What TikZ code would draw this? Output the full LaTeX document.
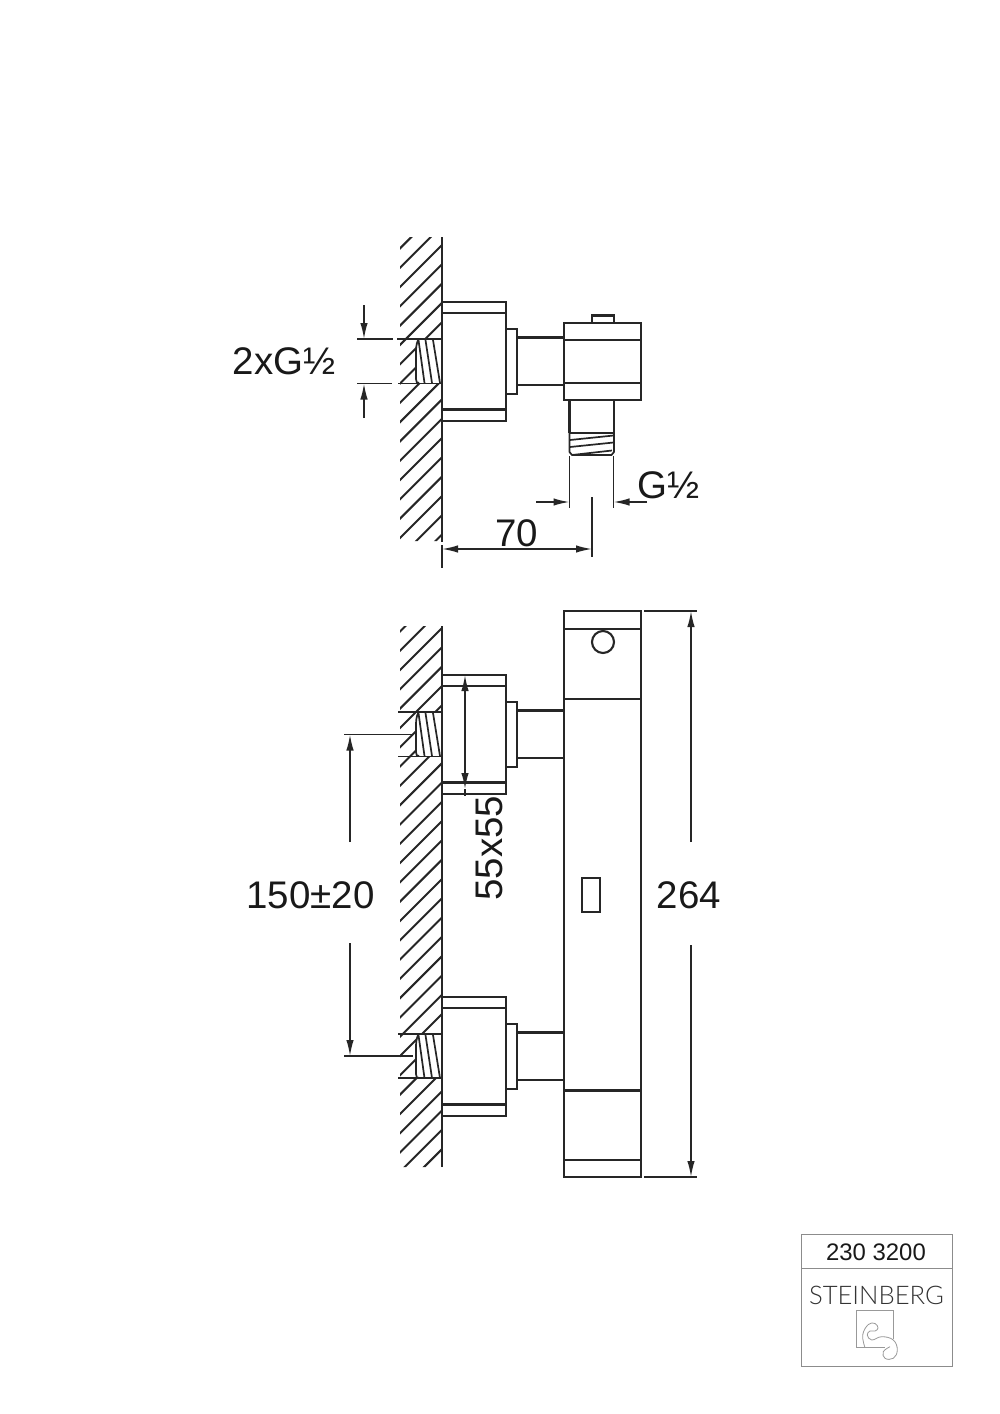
\documentclass[tikz,border=0pt]{standalone}
\usepackage{fontspec}
\setmainfont{Liberation Sans}
\newfontfamily\lightfont{Lato Light}
\usetikzlibrary{arrows.meta}
\tikzset{
  part/.style={line width=0.042cm,color=black!85,line join=miter},
  dimline/.style={line width=0.034cm,color=black!85},
  dimarrow/.style={dimline,-{Latex[length=0.32cm,width=0.15cm]}},
  dimboth/.style={dimline,{Latex[length=0.32cm,width=0.15cm]}-{Latex[length=0.32cm,width=0.15cm]}},
  hatchline/.style={line width=0.04cm,color=black!85},
  threadline/.style={line width=0.034cm,color=black!85},
  bigtext/.style={font=\fontsize{21.9}{22}\selectfont,color=black!90,inner sep=0pt},
  titleframe/.style={line width=0.02cm,color=black!45},
  logoline/.style={line width=0.016cm,color=black!40},
}
\newcommand{\mountblock}[1]{%
  \draw[part] (442,#1) rectangle (506,#1+119);
  \draw[part] (442,#1+11) -- (506,#1+11);
  \draw[part] (442,#1+107.5) -- (506,#1+107.5);
  \draw[part] (506,#1+27) rectangle (517,#1+92);
  \draw[part] (517,#1+35.5) -- (564,#1+35.5);
  \draw[part] (517,#1+83) -- (564,#1+83);
}
\newcommand{\holethread}[1]{%
  \draw[threadline] (418,#1+1) .. controls (416,#1+6) and (416,#1+10) .. (416,#1+14) -- (416,#1+40) .. controls (416,#1+43) and (417,#1+44) .. (419,#1+44);
  \draw[threadline] (418.5,#1+1) -- (424.5,#1+44);
  \draw[threadline] (425.5,#1+1) -- (432,#1+44);
  \draw[threadline] (433,#1+1) -- (440,#1+44);
}
\begin{document}
\begin{tikzpicture}[x=0.02cm,y=-0.02cm]
\useasboundingbox (0,0) rectangle (1000,1414);
\fill[white] (0,0) rectangle (1000,1414);

% ---------- upper view: wall hatch
\begin{scope}
  \clip (400,237) -- (442,237) -- (442,339) -- (416,339) -- (416,383.5) -- (442,383.5) -- (442,541) -- (400,541) -- cycle;
  \foreach \k in {0,...,20}{
    \draw[hatchline] (443,{205.4+19.3*\k}) -- (399,{249.4+19.3*\k});
  }
\end{scope}
\draw[part] (442,237) -- (442,541.5);
\draw[part] (442,545) -- (442,568);
\draw[threadline] (397,339) -- (442,339);
\draw[threadline] (398,383.5) -- (442,383.5);
\holethread{339}
\mountblock{302}

% upper view: side head
\draw[part] (564,323) rectangle (641,400);
\draw[part] (564,340) -- (641,340);
\draw[part] (564,383) -- (641,383);
\draw[part] (592,323) -- (592,315.5) -- (614,315.5) -- (614,323);
\draw[part] (569.5,400) -- (569.5,433);
\draw[part] (614,400) -- (614,433);
\draw[part] (569.5,433) -- (614,433);
\draw[threadline] (569.5,433) -- (569.5,452) -- (572,455) -- (611.5,455) -- (614,452) -- (614,433);
\draw[threadline] (570,440) -- (613.5,435.5);
\draw[threadline] (570,447) -- (613.5,442.5);
\draw[threadline] (572,455) -- (612,450.5);

% upper view: dimensions
\draw[dimline] (357,339) -- (393,339);
\draw[dimline] (357,383.5) -- (392,383.5);
\coordinate (da) at (364,305); \coordinate (db) at (364,339);
\coordinate (dc) at (364,418); \coordinate (dd) at (364,383.5);
\draw[dimarrow] (da) -- (db);
\draw[dimarrow] (dc) -- (dd);
\node[bigtext] (lblA) at (284,361) {2xG½};

\draw[dimline] (569.5,456) -- (569.5,508);
\draw[dimline] (613.5,456) -- (613.5,508);
\draw[dimline] (592,497) -- (592,557);
\coordinate (ga) at (536,502); \coordinate (gb) at (569.5,502);
\coordinate (gc) at (647,502); \coordinate (gd) at (613.5,502);
\draw[dimarrow] (ga) -- (gb);
\draw[dimarrow] (gc) -- (gd);
\node[bigtext] (lblB) at (669,485) {G½};
\coordinate (sa) at (442,549); \coordinate (sb) at (592,549);
\draw[dimboth] (sa) -- (sb);
\node[bigtext] (lblC) at (517,533.5) {70};

% ---------- lower view: wall hatch
\begin{scope}
  \clip (400,626) -- (442,626) -- (442,712) -- (416,712) -- (416,756.5) -- (442,756.5)
     -- (442,1034) -- (416,1034) -- (416,1078) -- (442,1078) -- (442,1167) -- (400,1167) -- cycle;
  \foreach \k in {-3,...,30}{
    \draw[hatchline] (443,{627+19.3*\k}) -- (399,{671+19.3*\k});
  }
\end{scope}
\draw[part] (442,626) -- (442,1167);
\draw[threadline] (398,712) -- (442,712);
\draw[threadline] (398,756.5) -- (442,756.5);
\draw[threadline] (398,1034) -- (442,1034);
\draw[threadline] (398,1078) -- (442,1078);
\holethread{712}
\holethread{1034}
\mountblock{675}
\mountblock{997}

% lower view: body
\draw[part] (564,611) rectangle (641,1177);
\draw[part] (564,629) -- (641,629);
\draw[part] (564,699) -- (641,699);
\draw[part] (564,1090.5) -- (641,1090.5);
\draw[part] (564,1160) -- (641,1160);
\draw[part] (603,642) circle [radius=0.22cm];
\draw[part] (582,878) rectangle (600,912);

% lower view: dimensions
\coordinate (wa) at (465,675); \coordinate (wb) at (465,789); \coordinate (wc) at (465,796);
\draw[dimline] (wb) -- (wc);
\draw[dimboth] (wa) -- (wb);
\node[bigtext,rotate=90] (lblD) at (489,848) {55x55};

\draw[dimline] (344,734.5) -- (413,734.5);
\draw[dimline] (344,1056) -- (413,1056);
\coordinate (pa) at (350,842); \coordinate (pb) at (350,734.5);
\coordinate (pc) at (350,943); \coordinate (pd) at (350,1056);
\draw[dimarrow] (pa) -- (pb);
\draw[dimarrow] (pc) -- (pd);
\node[bigtext] (lblE) at (310.5,895) {150±20};

\draw[dimline] (644,611) -- (697,611);
\draw[dimline] (644,1177) -- (697,1177);
\coordinate (ha) at (691,842); \coordinate (hb) at (691,611);
\coordinate (hc) at (691,945); \coordinate (hd) at (691,1177);
\draw[dimarrow] (ha) -- (hb);
\draw[dimarrow] (hc) -- (hd);
\node[bigtext] (lblF) at (689,895) {264};

% ---------- title block
\draw[titleframe] (801,1234) rectangle (952,1366);
\draw[titleframe] (801,1268) -- (952,1268);
\node[inner sep=0pt,font=\fontsize{13.6}{14}\selectfont,color=black!90] (num) at (876,1252) {230 3200};
\node[inner sep=0pt,font=\lightfont\fontsize{14.6}{15}\selectfont,color=black!80] (brand) at (876.5,1295) {STEINBERG};
\draw[logoline] (865,1347) -- (856,1347) -- (856,1310) -- (893,1310) -- (893,1339);
\draw[logoline] (856,1347) -- (885,1347);
\draw[logoline] plot[smooth,tension=0.7] coordinates {(865,1347.7) (862.7,1335) (868.3,1324.5) (875,1323.5) (878,1328) (875,1331) (870,1331) (867.3,1335) (871.7,1340) (881.7,1336.7) (893.3,1340) (897.3,1350) (893.3,1358.3) (885,1358.3) (883.3,1351.7) (890,1346.7)};
\end{tikzpicture}
\end{document}
